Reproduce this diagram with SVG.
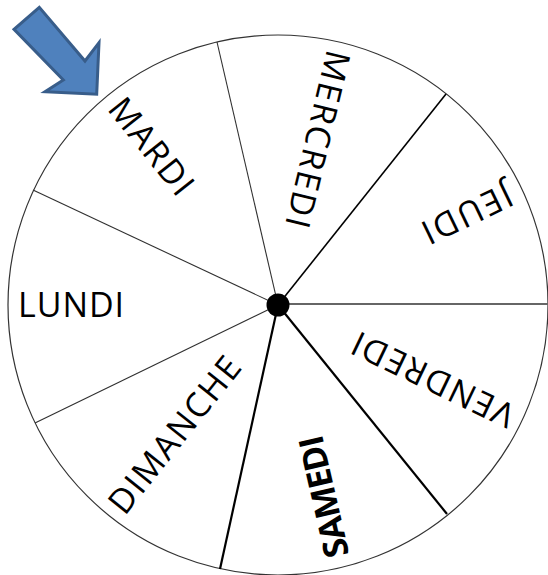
<svg xmlns="http://www.w3.org/2000/svg" width="548" height="575" viewBox="0 0 548 575">
<style>
.lbl{font-family:"Open Sans","Liberation Sans",sans-serif;font-size:34px;fill:#000;}
.bold{font-weight:bold;}
.thin{stroke:#303030;stroke-width:1.1;fill:none;}
.mid{stroke:#000;stroke-width:1.6;fill:none;}
.thick{stroke:#000;stroke-width:2.2;fill:none;}
.grey{stroke:#666;stroke-width:2;fill:none;}
</style>
<rect width="548" height="575" fill="#fff"/>
<g id="wheel">
<circle cx="278" cy="305" r="270" fill="#fff" stroke="#333" stroke-width="1.2"/>
</g>
<g id="connectors">
<line class="thin" x1="278" y1="305" x2="217" y2="42"/>
<line class="mid" x1="278" y1="305" x2="446" y2="94"/>
<line class="grey" x1="278" y1="304" x2="548" y2="304"/>
<line class="thick" x1="278" y1="305" x2="447" y2="514"/>
<line class="thick" x1="278" y1="305" x2="220" y2="569"/>
<line class="thin" x1="278" y1="305" x2="35" y2="423"/>
<line class="thin" x1="278" y1="305" x2="33" y2="190"/>
</g>
<g id="hub"><circle cx="278" cy="305" r="11.5" fill="#000"/></g>
<g id="lundi" transform="translate(278,305) rotate(0)"><text class="lbl" x="-260" y="12" textLength="106" lengthAdjust="spacing">LUNDI</text></g>
<g id="mardi" transform="translate(278,305) rotate(51.43)"><text class="lbl" x="-260" y="12" textLength="114" lengthAdjust="spacing">MARDI</text></g>
<g id="mercredi" transform="translate(278,305) rotate(103.5)"><text class="lbl" x="-261" y="12" textLength="181" lengthAdjust="spacing">MERCREDI</text></g>
<g id="jeudi" transform="translate(278,305) rotate(154.29)"><text class="lbl" x="-258" y="12" textLength="96" lengthAdjust="spacing">JEUDI</text></g>
<g id="vendredi" transform="translate(278,305) rotate(205.71)"><text class="lbl" x="-260" y="12" textLength="176" lengthAdjust="spacing">VENDREDI</text></g>
<g id="samedi" transform="translate(278,305) rotate(257.14)"><text class="lbl bold" x="-259" y="14" textLength="124" lengthAdjust="spacing">SAMEDI</text></g>
<g id="dimanche" transform="translate(278,305) rotate(308.57)"><text class="lbl" x="-261" y="12" textLength="190" lengthAdjust="spacing">DIMANCHE</text></g>
<g id="pointer">
<polygon points="39.3,7.3 14,29.3 63.3,80 45,91.7 96.7,94.3 99,42.7 85,61" fill="#4F81BD" stroke="#385D8A" stroke-width="3" stroke-linejoin="miter"/>
</g>
</svg>
